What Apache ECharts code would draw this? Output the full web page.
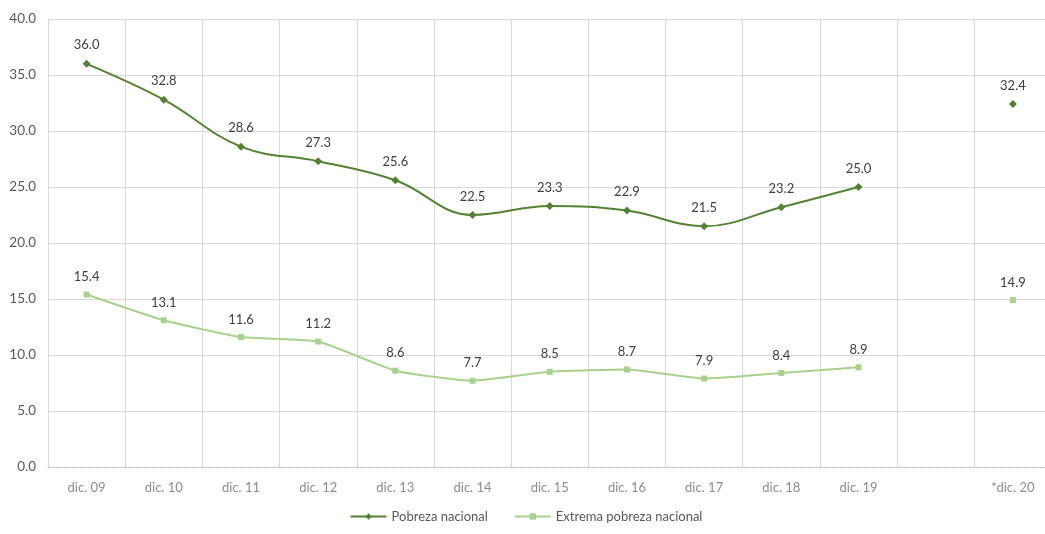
<!DOCTYPE html>
<html><head><meta charset="utf-8">
<script src="https://cdn.jsdelivr.net/npm/echarts@6/dist/echarts.min.js"></script>
<style>html,body{margin:0;padding:0;background:#fff;overflow:hidden;width:1045px;height:534px}#c{width:1052px;height:534px}</style>
</head><body><div id="c"></div>
<script>
const categories = ['dic. 09','dic. 10','dic. 11','dic. 12','dic. 13','dic. 14','dic. 15','dic. 16','dic. 17','dic. 18','dic. 19','','*dic. 20'];
const pobreza = [36.0,32.8,28.6,27.3,25.6,22.5,23.3,22.9,21.5,23.2,25.0,null,32.4];
const extrema = [15.4,13.1,11.6,11.2,8.6,7.7,8.5,8.7,7.9,8.4,8.9,null,14.9];
const seriesNames = ['Pobreza nacional','Extrema pobreza nacional'];
const font = 'Lato, "Open Sans", sans-serif';
const chart = echarts.init(document.getElementById('c'), null, {renderer:'canvas'});
const lbl = {show:true, position:'top', distance:8, color:'#404040', fontSize:13, fontFamily:font, formatter:p=>p.value==null?'':p.value.toFixed(1)};
chart.setOption({
  animation:false,
  textStyle:{fontFamily:font},
  grid:{left:48, right:0.5, top:19, bottom:67, containLabel:false},
  legend:{bottom:6, left:'center', itemWidth:36, itemHeight:8, itemGap:26,
    textStyle:{color:'#595959', fontSize:13, fontFamily:font},
    data:seriesNames},
  xAxis:{type:'category', data:categories, boundaryGap:true,
    axisLine:{show:true, lineStyle:{color:'#bfbfbf', type:[2,2]}},
    axisTick:{show:false},
    axisLabel:{color:'#8c8c8c', fontSize:13, fontFamily:font, margin:14, interval:0},
    splitLine:{show:true, interval:0, lineStyle:{color:'#d9d9d9'}}},
  yAxis:{type:'value', min:0, max:40, interval:5,
    axisLine:{show:true, lineStyle:{color:'#d9d9d9'}},
    axisLabel:{color:'#595959', fontSize:13.5, fontFamily:font, formatter:v=>v.toFixed(1), margin:12},
    splitLine:{lineStyle:{color:'#d9d9d9'}}},
  series:[
    {name:seriesNames[0], type:'line', data:pobreza, smooth:0.4, connectNulls:false,
     symbol:'diamond', symbolSize:8, showAllSymbol:true,
     lineStyle:{color:'#548235', width:2}, itemStyle:{color:'#548235'}, label:lbl},
    {name:seriesNames[1], type:'line', data:extrema, smooth:0.15, connectNulls:false,
     symbol:'rect', symbolSize:6, showAllSymbol:true,
     lineStyle:{color:'#a9d18e', width:2}, itemStyle:{color:'#a9d18e'}, label:lbl}
  ]
});
</script></body></html>
